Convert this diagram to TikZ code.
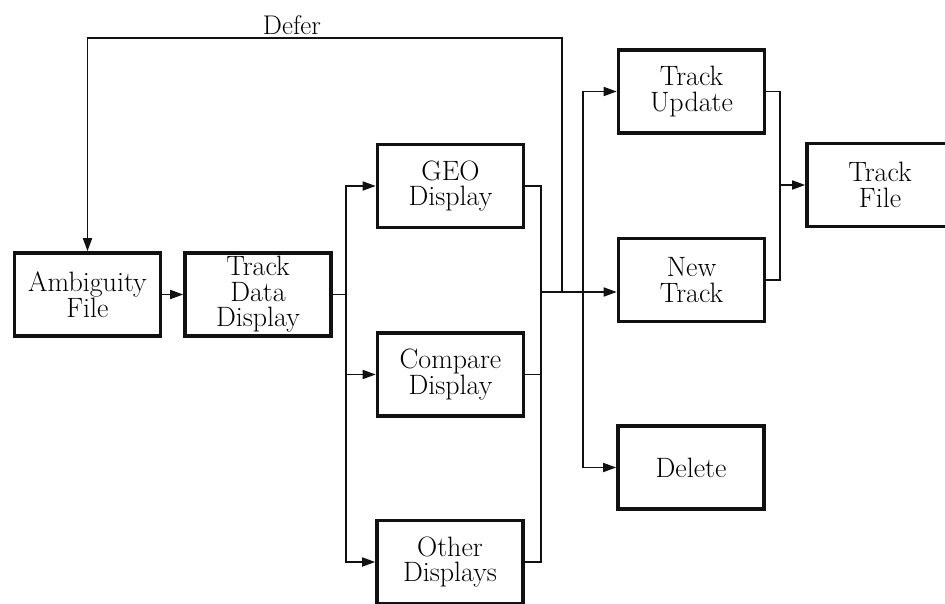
\documentclass[tikz,border=0pt]{standalone}
\usepackage{tikz}
\usetikzlibrary{arrows.meta,positioning,calc}
\definecolor{tinta}{HTML}{111111}
\tikzset{
  block/.style={draw=tinta,line width=3.6pt,align=center,minimum width=146pt,
    minimum height=83pt,inner sep=0.5pt,font=\fontsize{28}{25.5}\selectfont},
  wire/.style={draw=tinta,line width=1.7pt},
  arrow/.style={wire,-{Triangle[length=13pt,width=9pt]}},
  edgeword/.style={inner sep=1pt,font=\fontsize{27}{27}\selectfont}
}
\begin{document}
\begin{tikzpicture}[x=1pt,y=-1pt]
\useasboundingbox (0,0) rectangle (945,604);

\node[block] (amb) at (87.5,294.5) {Ambiguity\\File};
\node[block] (tdd) at (258,294.5) {Track\\Data\\Display};

\node[block] (geo) at (450.5,186) {GEO\\Display};
\node[block] (cmp) at (450.5,374.5) {Compare\\Display};
\node[block] (oth) at (450,562) {Other\\Displays};

\node[block] (upd) at (691.5,91.5) {Track\\Update};
\node[block] (new) at (691.5,280) {New\\Track};
\node[block] (del) at (691,467.5) {Delete};

\node[block] (tfile) at (880,185) {Track\\File};

\node[edgeword] (deferlbl) at (292,25) {Defer};

\coordinate (split) at (346,294.5);
\coordinate (join) at (541,292);
\coordinate (defer) at (562,292);
\coordinate (deftop) at (562,38);
\coordinate (fork) at (583,292);
\coordinate (tfin) at (780,185);

\draw[arrow] (amb)--(tdd);
\draw[wire] (tdd)--(split);
\draw[arrow] (split) |- (geo);
\draw[arrow] (split) |- (cmp);
\draw[arrow] (split) |- (oth);
\draw[wire] (geo) -| (join);
\draw[wire] (cmp)--(cmp -| join);
\draw[wire] (oth) -| (join);
\draw[arrow] (join)--(new.west |- join);
\draw[arrow] (defer)--(deftop) -| (amb);
\draw[arrow] (fork) |- (upd);
\draw[arrow] (fork) |- (del);
\draw[wire] (upd) -| (tfin) |- (new);
\draw[arrow] (tfin)--(tfile);
\end{tikzpicture}
\end{document}
